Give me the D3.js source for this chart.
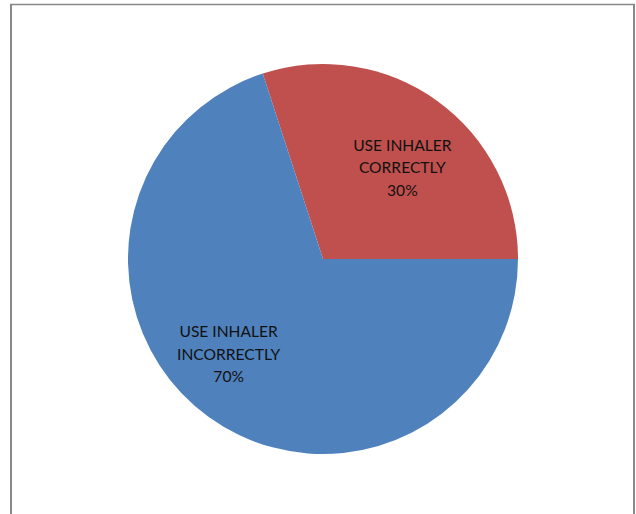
<!DOCTYPE html>
<html><head><meta charset="utf-8">
<script src="https://cdn.jsdelivr.net/npm/d3@7"></script>
<style>html,body{margin:0;padding:0;background:#fff;}svg{display:block;}</style>
</head><body>
<svg id="chart" width="636" height="514"></svg>
<script>
const categories = ["USE INHALER CORRECTLY", "USE INHALER INCORRECTLY"];
const labelLines = [["USE INHALER", "CORRECTLY"], ["USE INHALER", "INCORRECTLY"]];
const values = [30, 70];
const colors = ["#C0504D", "#4F81BD"];

const svg = d3.select("#chart");
const W = 636, H = 514;
// frame
svg.append("line").attr("x1", 11).attr("x2", 11).attr("y1", 4).attr("y2", H).attr("stroke", "#888").attr("stroke-width", 2);
svg.append("line").attr("x1", 10).attr("x2", 635).attr("y1", 4.5).attr("y2", 4.5).attr("stroke", "#888").attr("stroke-width", 1.5);
svg.append("line").attr("x1", 634).attr("x2", 634).attr("y1", 4).attr("y2", H).attr("stroke", "#888").attr("stroke-width", 2);

const cx = 323, cy = 259, R = 195;
const total = d3.sum(values);
const startA = -(values[0] / total) * 2 * Math.PI + Math.PI / 2;
const pie = d3.pie().sort(null).value(d => d).startAngle(startA).endAngle(startA + 2 * Math.PI);
const arcs = pie(values);
const arc = d3.arc().innerRadius(0).outerRadius(R);
const g = svg.append("g").attr("transform", `translate(${cx},${cy})`);
g.selectAll("path").data(arcs).enter().append("path")
  .attr("d", arc).attr("fill", (d, i) => colors[i]);

const labelArc = d3.arc().innerRadius(R * 0.64).outerRadius(R * 0.64);
const offsets = [[6, 10], [-21, -5]];
arcs.forEach((d, i) => {
  const [x, y] = labelArc.centroid(d);
  const t = g.append("text").attr("text-anchor", "middle")
    .attr("font-family", "Lato, 'Open Sans', sans-serif").attr("font-size", 15.6).attr("fill", "#111")
    .attr("transform", `translate(${x + offsets[i][0]},${y + offsets[i][1]})`);
  const lines = labelLines[i].concat([Math.round(values[i] / total * 100) + "%"]);
  lines.forEach((ln, k) => {
    t.append("tspan").attr("x", 0).attr("y", (k - 1) * 22.5 + 5).text(ln);
  });
});
</script>
</body></html>
